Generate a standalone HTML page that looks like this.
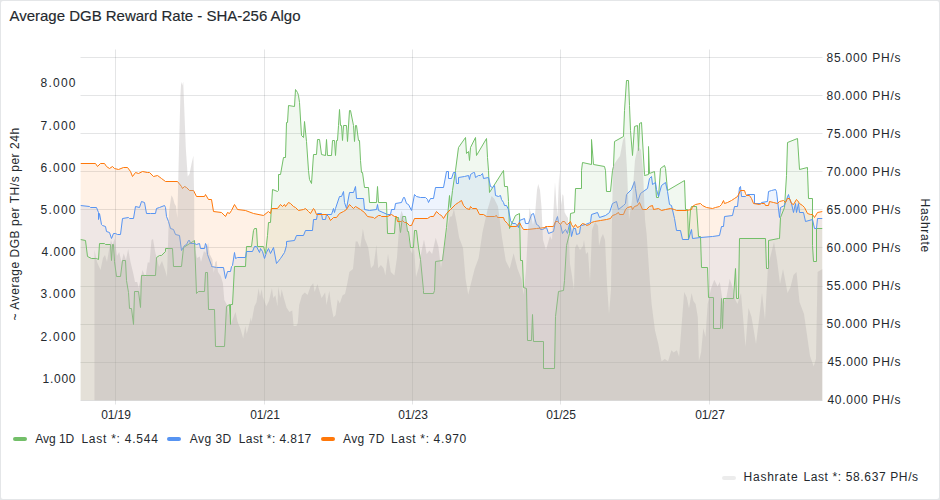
<!DOCTYPE html>
<html><head><meta charset="utf-8"><style>
html,body{margin:0;padding:0;width:940px;height:500px;overflow:hidden;background:#e4e6e8}
body{font-family:"Liberation Sans",sans-serif;color:#24292e;position:relative}
.card{position:absolute;left:1px;top:1px;width:938px;height:498px;background:#fff;border-radius:2px}
.t{position:absolute;font-size:12px;line-height:20px;white-space:nowrap}
.bar{position:absolute;height:4px;border-radius:2px}
</style></head><body>
<div class="card"></div>
<svg width="940" height="500" viewBox="0 0 940 500" style="position:absolute;left:0;top:0">
<defs><clipPath id="pc"><rect x="80.5" y="49.5" width="742.0" height="351.0"/></clipPath></defs>
<path d="M80.5,57.5 H822.5 M80.5,95.5 H822.5 M80.5,133.5 H822.5 M80.5,171.5 H822.5 M80.5,209.5 H822.5 M80.5,247.5 H822.5 M80.5,286.5 H822.5 M80.5,324.5 H822.5 M80.5,362.5 H822.5 M80.5,400.5 H822.5 M115.5,49.5 V404.5 M264.5,49.5 V404.5 M412.5,49.5 V404.5 M560.5,49.5 V404.5 M709.5,49.5 V404.5" stroke="rgba(36,41,46,0.12)" stroke-width="1" fill="none"/>
<g clip-path="url(#pc)">
<path d="M80.30,400.50 L80.30,239.20 L85.50,240.00 L87.70,256.50 L91.50,258.00 L96.00,258.70 L98.20,259.50 L99.70,243.00 L104.20,243.30 L105.00,244.50 L110.20,244.50 L111.30,260.20 L112.50,244.50 L113.70,244.50 L114.70,261.00 L116.20,276.00 L120.70,276.00 L122.20,260.20 L125.20,260.20 L126.50,280.00 L128.00,292.50 L129.25,308.00 L131.75,308.75 L133.00,324.50 L134.20,291.00 L138.00,291.00 L140.50,307.50 L141.70,275.20 L155.20,275.20 L156.00,257.20 L159.70,255.70 L161.20,255.00 L165.00,251.20 L165.00,248.80 L172.20,248.80 L173.00,266.25 L181.75,266.25 L183.40,247.20 L194.60,240.80 L196.30,293.00 L198.40,291.00 L204.00,291.00 L205.40,272.00 L207.50,272.00 L208.50,309.50 L214.25,309.50 L215.50,346.25 L224.25,346.25 L226.75,306.25 L229.90,304.30 L230.30,324.00 L230.80,304.30 L232.70,304.30 L234.10,266.40 L245.30,266.40 L246.00,246.80 L251.60,246.80 L253.00,230.00 L254.25,228.75 L256.75,228.75 L257.20,246.80 L263.00,246.80 L265.60,253.80 L267.00,235.60 L268.50,222.90 L270.60,222.90 L272.60,189.10 L277.10,191.00 L278.00,190.00 L278.80,174.60 L280.60,174.60 L283.20,157.00 L285.00,157.00 L286.50,122.90 L287.50,122.00 L288.70,105.30 L294.20,106.40 L295.30,89.90 L297.50,92.10 L298.60,95.40 L299.70,102.00 L301.90,135.00 L303.00,137.20 L304.80,121.80 L306.30,141.60 L308.50,170.20 L309.60,179.00 L311.80,183.40 L313.60,154.80 L316.20,154.80 L317.30,139.40 L319.50,139.40 L321.00,154.80 L325.00,155.20 L326.20,139.00 L327.40,155.20 L331.60,155.20 L332.80,140.60 L334.40,140.60 L335.60,155.80 L336.80,140.80 L337.60,140.00 L338.40,125.20 L339.40,109.00 L340.00,125.20 L341.20,125.20 L342.40,140.20 L343.60,125.20 L346.00,125.20 L347.20,141.40 L349.00,110.80 L350.80,110.20 L353.20,125.20 L354.40,141.40 L355.60,125.20 L356.80,125.20 L358.00,140.20 L359.20,140.20 L360.40,160.00 L361.30,172.00 L362.70,172.70 L364.10,187.40 L368.30,187.40 L369.70,202.10 L376.00,202.10 L377.40,186.00 L378.10,202.10 L386.50,202.10 L387.20,233.30 L394.40,233.30 L395.30,217.00 L398.80,217.00 L400.60,232.40 L402.40,216.20 L405.10,216.20 L407.00,231.50 L408.80,231.50 L410.50,247.10 L413.20,247.10 L414.10,230.60 L416.80,230.60 L418.60,247.10 L420.40,259.40 L423.00,290.00 L423.50,293.00 L433.00,293.00 L434.75,290.00 L435.70,261.20 L442.90,260.30 L446.50,227.00 L449.25,195.00 L449.25,195.00 L450.50,207.50 L452.25,190.00 L455.50,170.00 L458.00,147.50 L465.50,137.50 L466.25,153.75 L468.00,151.00 L469.25,160.00 L470.00,147.50 L475.50,137.50 L476.75,155.00 L486.25,138.75 L487.00,157.50 L488.50,170.00 L489.25,192.50 L503.00,170.00 L504.25,186.25 L507.00,186.25 L508.00,201.25 L509.25,228.75 L515.50,215.00 L519.25,213.75 L520.50,260.00 L522.50,260.00 L523.00,287.00 L526.00,288.00 L527.50,340.00 L531.50,340.00 L532.50,314.50 L533.75,341.25 L543.00,341.25 L543.50,368.00 L554.25,368.00 L555.50,316.25 L558.00,291.25 L563.00,290.50 L564.25,280.00 L566.75,245.00 L569.20,233.00 L570.00,213.50 L574.50,212.70 L575.20,188.00 L581.20,188.00 L581.70,170.00 L582.00,162.40 L591.00,164.00 L591.60,139.00 L593.00,164.00 L604.00,166.00 L605.20,170.00 L606.70,191.70 L610.50,191.70 L612.00,170.00 L613.00,166.00 L614.60,141.00 L623.00,136.00 L624.50,110.00 L626.00,80.00 L628.50,80.00 L629.75,105.00 L630.60,130.00 L632.00,155.00 L634.00,126.00 L637.00,125.00 L638.00,150.00 L639.00,123.00 L641.40,122.00 L644.00,174.00 L644.50,175.20 L648.00,174.00 L648.80,146.00 L649.60,173.50 L654.20,171.50 L656.50,197.00 L658.00,197.00 L660.20,168.00 L664.50,165.00 L665.50,168.00 L667.00,190.20 L684.20,180.50 L685.70,209.70 L687.20,209.70 L688.70,239.00 L690.20,209.00 L691.70,206.70 L696.20,206.00 L698.50,236.00 L700.00,236.00 L701.00,267.50 L707.50,267.50 L708.00,297.50 L713.00,297.50 L713.75,328.75 L720.00,328.75 L721.00,298.75 L722.00,328.75 L723.00,298.75 L733.75,298.75 L735.50,268.75 L736.50,298.75 L738.00,298.75 L739.50,238.75 L765.00,238.75 L766.25,268.75 L768.00,268.75 L768.75,240.00 L778.75,238.75 L779.20,238.70 L780.00,217.00 L784.80,207.20 L786.20,175.00 L787.50,142.50 L797.50,138.00 L799.50,169.00 L807.00,167.00 L807.90,170.00 L808.60,198.10 L812.10,198.80 L812.80,245.00 L813.75,261.25 L816.00,261.25 L816.30,228.90 L822.50,228.90 L822.50,400.50 Z" fill="rgba(115,191,105,0.10)"/>
<path d="M80.30,400.50 L80.30,205.50 L89.20,206.20 L90.00,207.00 L96.70,207.70 L98.20,212.20 L98.70,219.00 L99.70,213.70 L101.20,224.20 L102.70,225.70 L105.00,226.50 L106.50,231.70 L109.50,232.50 L111.30,238.50 L113.20,233.20 L115.50,233.20 L117.00,234.70 L120.70,234.30 L122.20,218.20 L128.20,217.50 L129.00,218.20 L133.50,218.20 L135.00,206.20 L139.50,207.00 L141.70,201.70 L144.00,202.50 L146.20,213.00 L150.70,213.70 L155.20,213.70 L156.00,208.50 L159.70,207.00 L164.20,205.50 L165.00,207.20 L166.60,216.80 L168.20,221.60 L170.60,228.00 L173.00,229.60 L175.40,234.40 L179.40,235.20 L181.80,250.40 L184.20,245.60 L186.60,244.80 L188.20,240.00 L189.80,240.00 L190.60,243.20 L194.60,243.20 L196.20,244.00 L199.10,243.30 L200.50,248.90 L204.00,248.90 L205.40,243.30 L206.50,245.50 L207.50,254.50 L211.00,265.00 L211.70,266.40 L216.60,267.10 L223.60,267.80 L225.70,278.30 L227.80,271.30 L230.60,271.30 L231.30,266.40 L232.70,265.70 L234.50,252.40 L235.50,258.00 L237.60,257.30 L245.30,257.30 L246.70,251.70 L252.30,251.70 L254.40,246.10 L256.50,246.80 L259.30,252.40 L260.70,248.20 L262.80,251.70 L264.90,258.00 L266.90,252.40 L268.40,248.20 L270.50,253.75 L273.00,247.50 L276.75,263.75 L280.50,258.75 L284.25,252.50 L286.20,245.00 L286.90,241.10 L294.00,240.50 L296.00,235.90 L303.10,235.90 L305.10,230.10 L312.20,230.10 L313.50,219.00 L316.10,219.00 L317.40,213.50 L321.30,213.50 L322.60,219.00 L325.20,219.00 L326.50,214.50 L331.70,214.50 L333.00,208.00 L334.30,212.50 L335.60,208.00 L339.50,196.90 L341.50,196.90 L343.40,191.00 L344.70,202.80 L346.00,208.60 L349.30,192.40 L353.80,192.40 L355.00,186.00 L356.40,198.60 L363.40,198.60 L364.10,209.10 L369.00,210.50 L376.00,209.80 L377.40,204.20 L378.80,210.50 L387.20,214.00 L390.00,214.00 L391.40,209.80 L394.20,209.80 L395.60,203.50 L401.20,202.80 L403.30,197.50 L404.70,197.90 L406.10,203.50 L408.90,204.20 L411.00,210.50 L414.50,194.40 L416.60,196.50 L420.80,197.50 L425.00,197.90 L427.80,199.30 L428.50,202.80 L430.00,198.60 L433.40,198.60 L435.50,187.40 L443.20,187.40 L446.70,171.30 L448.10,171.30 L448.80,178.30 L451.60,178.30 L453.00,172.00 L455.00,172.70 L456.50,183.20 L458.00,183.20 L458.70,177.20 L464.70,176.50 L468.50,175.00 L469.20,179.50 L470.00,174.20 L473.00,172.70 L474.50,172.00 L475.20,177.20 L478.20,175.70 L480.00,175.70 L482.00,173.50 L483.50,178.00 L488.00,177.20 L490.20,186.20 L492.50,187.70 L494.00,185.50 L495.50,195.20 L498.50,196.00 L500.00,195.20 L501.50,199.00 L503.70,202.00 L504.50,205.00 L506.00,205.00 L508.20,209.50 L510.50,220.00 L512.70,223.00 L515.00,223.70 L518.00,227.50 L519.50,220.00 L524.00,218.50 L525.50,223.00 L528.50,223.00 L531.50,214.00 L533.00,213.20 L536.00,224.50 L538.00,225.20 L540.50,229.70 L542.00,229.20 L544.50,228.50 L546.70,227.70 L548.20,233.00 L553.50,231.50 L555.70,221.00 L557.20,216.50 L558.70,222.50 L560.70,224.70 L562.50,233.70 L564.00,230.00 L565.50,229.20 L567.00,233.00 L569.20,223.20 L570.00,227.70 L571.50,236.00 L573.70,228.50 L575.20,228.50 L576.70,234.50 L579.70,233.70 L580.50,226.20 L581.20,225.50 L585.00,224.70 L590.20,222.50 L591.00,214.20 L597.70,212.00 L599.20,217.20 L605.20,215.00 L609.70,212.70 L612.00,203.70 L616.50,201.50 L618.00,209.00 L623.20,205.20 L625.00,203.00 L626.50,194.70 L631.00,189.50 L634.00,181.20 L635.50,188.00 L637.70,202.20 L640.00,193.20 L647.50,188.00 L649.70,178.20 L651.20,176.70 L652.70,184.20 L655.00,182.00 L656.50,189.50 L658.70,196.20 L661.00,185.70 L665.50,182.00 L667.00,191.70 L669.20,204.50 L671.50,205.20 L674.50,218.00 L676.70,230.70 L680.50,230.00 L682.00,239.00 L688.00,239.00 L691.00,229.20 L692.50,238.20 L700.00,237.50 L712.00,236.60 L719.70,235.20 L721.10,226.10 L723.20,226.10 L724.60,216.30 L732.30,215.60 L734.40,206.50 L737.20,206.50 L739.30,187.60 L740.70,186.20 L741.40,196.00 L745.60,196.00 L747.70,194.60 L754.00,194.60 L754.70,203.00 L760.30,203.00 L761.70,202.30 L767.30,201.60 L768.70,191.80 L771.50,190.40 L775.70,189.00 L776.40,191.80 L779.20,217.00 L780.60,207.90 L784.80,205.80 L786.20,199.50 L788.30,194.60 L789.70,198.10 L791.80,203.00 L793.20,212.80 L795.30,203.70 L796.70,212.80 L798.10,203.00 L799.50,212.10 L803.00,212.10 L805.10,221.20 L812.80,219.80 L814.90,228.90 L816.30,228.90 L817.00,218.40 L822.50,218.40 L822.50,400.50 Z" fill="rgba(87,148,242,0.10)"/>
<path d="M80.30,400.50 L80.30,163.70 L95.40,163.70 L97.00,166.30 L100.00,163.70 L104.30,163.70 L106.20,166.80 L109.80,168.00 L112.20,166.30 L114.60,168.70 L118.20,169.70 L123.00,167.30 L127.00,167.30 L130.20,171.00 L132.60,176.40 L135.00,172.80 L138.00,173.50 L142.20,171.00 L147.00,172.00 L149.00,172.50 L153.00,176.40 L157.00,175.50 L161.40,178.80 L165.00,181.60 L177.80,181.60 L181.00,186.40 L182.60,188.00 L184.20,186.40 L186.60,187.20 L189.00,190.40 L193.80,190.40 L196.20,196.80 L204.20,196.80 L205.80,194.40 L208.20,199.20 L211.40,199.20 L213.80,211.20 L221.00,212.00 L225.00,216.80 L227.40,212.00 L229.00,213.60 L231.40,210.40 L234.60,204.80 L237.00,209.60 L245.00,210.40 L253.00,213.75 L263.00,215.00 L268.00,211.20 L270.00,213.20 L271.90,208.00 L277.10,208.00 L280.40,204.70 L282.30,206.00 L284.30,204.00 L285.60,206.00 L288.80,202.80 L290.70,203.40 L293.40,206.00 L295.30,207.30 L298.60,210.60 L303.10,209.90 L305.10,208.60 L308.30,211.20 L310.90,213.20 L313.50,208.60 L314.80,209.30 L316.10,214.10 L326.50,214.10 L328.50,216.40 L330.40,220.30 L333.00,217.70 L336.90,217.70 L339.50,213.80 L343.40,211.90 L346.00,209.30 L349.30,204.70 L351.90,206.70 L353.80,208.60 L355.00,206.30 L360.60,209.80 L364.80,212.60 L367.60,216.80 L373.20,217.50 L374.60,218.20 L378.10,215.40 L380.20,215.40 L381.60,216.10 L387.20,216.10 L391.40,214.00 L394.20,216.10 L396.30,216.10 L397.00,221.00 L401.20,221.70 L402.60,220.30 L404.00,222.40 L406.80,222.40 L409.60,225.20 L411.00,225.20 L414.50,218.20 L427.80,218.20 L430.60,216.10 L433.40,216.10 L436.20,211.20 L439.00,214.70 L441.10,215.40 L443.20,218.90 L446.00,213.30 L450.20,209.80 L455.00,204.20 L458.00,202.70 L461.00,200.50 L463.20,205.70 L466.20,208.70 L469.20,209.50 L470.00,206.50 L472.20,208.70 L476.70,208.70 L479.00,214.70 L483.50,214.70 L486.50,216.20 L494.00,216.20 L496.20,215.50 L497.70,217.70 L503.00,217.70 L504.50,220.70 L507.50,223.70 L509.70,226.00 L516.50,226.00 L519.50,222.20 L521.70,226.00 L523.20,229.00 L527.00,229.70 L536.00,228.20 L545.00,227.50 L545.50,226.25 L547.50,226.20 L553.50,226.20 L555.00,221.70 L557.20,221.00 L558.70,222.50 L560.20,224.00 L562.50,221.70 L564.70,221.70 L566.20,224.70 L567.70,224.00 L570.00,221.00 L571.50,224.70 L573.00,227.70 L575.20,224.70 L577.50,227.00 L579.70,226.20 L582.00,223.20 L585.00,224.00 L586.50,225.50 L589.50,224.70 L591.70,222.50 L594.70,221.70 L600.00,220.70 L606.00,219.50 L610.50,218.00 L612.00,215.00 L615.00,214.20 L618.00,212.00 L619.50,214.70 L623.20,214.20 L625.00,209.70 L627.20,207.50 L631.00,206.00 L632.50,209.00 L634.70,206.00 L637.00,205.20 L639.20,202.20 L642.20,209.00 L646.00,209.30 L649.00,206.00 L652.70,205.20 L653.50,209.70 L658.00,208.70 L661.00,210.50 L665.50,209.70 L670.00,208.70 L674.50,209.70 L676.00,210.50 L686.50,210.20 L691.00,209.00 L692.50,206.00 L695.50,204.80 L700.00,203.70 L702.20,205.20 L706.00,207.50 L712.00,208.60 L715.50,207.90 L719.70,206.50 L721.80,204.40 L723.90,200.90 L724.60,203.00 L727.40,202.30 L731.60,200.90 L734.40,198.10 L737.20,196.70 L740.00,190.40 L744.20,190.40 L745.60,193.20 L746.30,195.30 L749.10,195.30 L751.20,198.80 L753.30,203.70 L759.60,204.40 L761.00,203.00 L764.50,203.00 L765.90,205.10 L768.00,205.10 L769.40,201.60 L773.60,202.30 L777.80,203.00 L779.20,201.60 L783.40,200.90 L785.50,202.30 L787.60,198.80 L789.70,198.80 L791.80,203.00 L793.20,204.40 L796.00,199.50 L797.40,200.90 L799.50,203.70 L802.30,205.10 L804.40,207.90 L807.20,213.50 L810.00,214.90 L812.80,214.20 L814.90,217.00 L817.70,212.80 L822.50,211.40 L822.50,400.50 Z" fill="rgba(255,120,10,0.10)"/>
<path d="M80.50,239.50 L85.50,240.50 L87.50,256.50 L91.50,258.50 L96.50,258.50 L98.50,259.50 L99.50,243.50 L104.50,243.50 L105.50,244.50 L110.50,244.50 L111.50,260.50 L112.50,244.50 L113.50,244.50 L114.50,261.50 L116.50,276.50 L120.50,276.50 L122.50,260.50 L125.50,260.50 L126.50,280.50 L128.50,292.50 L129.50,308.50 L131.50,308.50 L133.50,324.50 L134.50,291.50 L138.50,291.50 L140.50,307.50 L141.50,275.50 L155.50,275.50 L156.50,257.50 L159.50,255.50 L161.50,255.50 L165.50,251.50 L165.50,248.50 L172.50,248.50 L173.50,266.50 L181.50,266.50 L183.50,247.50 L194.50,240.50 L196.50,293.50 L198.50,291.50 L204.50,291.50 L205.50,272.50 L207.50,272.50 L208.50,309.50 L214.50,309.50 L215.50,346.50 L224.50,346.50 L226.50,306.50 L229.50,304.50 L230.50,324.50 L230.50,304.50 L232.50,304.50 L234.50,266.50 L245.50,266.50 L246.50,246.50 L251.50,246.50 L253.50,230.50 L254.50,228.50 L256.50,228.50 L257.50,246.50 L263.50,246.50 L265.50,253.50 L267.50,235.50 L268.50,222.50 L270.50,222.50 L272.50,189.50 L277.50,191.50 L278.50,190.50 L278.50,174.50 L280.50,174.50 L283.50,157.50 L285.50,157.50 L286.50,122.50 L287.50,122.50 L288.50,105.50 L294.50,106.50 L295.50,89.50 L297.50,92.50 L298.50,95.50 L299.50,102.50 L301.50,135.50 L303.50,137.50 L304.50,121.50 L306.50,141.50 L308.50,170.50 L309.50,179.50 L311.50,183.50 L313.50,154.50 L316.50,154.50 L317.50,139.50 L319.50,139.50 L321.50,154.50 L325.50,155.50 L326.50,139.50 L327.50,155.50 L331.50,155.50 L332.50,140.50 L334.50,140.50 L335.50,155.50 L336.50,140.50 L337.50,140.50 L338.50,125.50 L339.50,109.50 L340.50,125.50 L341.50,125.50 L342.50,140.50 L343.50,125.50 L346.50,125.50 L347.50,141.50 L349.50,110.50 L350.50,110.50 L353.50,125.50 L354.50,141.50 L355.50,125.50 L356.50,125.50 L358.50,140.50 L359.50,140.50 L360.50,160.50 L361.50,172.50 L362.50,172.50 L364.50,187.50 L368.50,187.50 L369.50,202.50 L376.50,202.50 L377.50,186.50 L378.50,202.50 L386.50,202.50 L387.50,233.50 L394.50,233.50 L395.50,217.50 L398.50,217.50 L400.50,232.50 L402.50,216.50 L405.50,216.50 L407.50,231.50 L408.50,231.50 L410.50,247.50 L413.50,247.50 L414.50,230.50 L416.50,230.50 L418.50,247.50 L420.50,259.50 L423.50,290.50 L423.50,293.50 L433.50,293.50 L434.50,290.50 L435.50,261.50 L442.50,260.50 L446.50,227.50 L449.50,195.50 L449.50,195.50 L450.50,207.50 L452.50,190.50 L455.50,170.50 L458.50,147.50 L465.50,137.50 L466.50,153.50 L468.50,151.50 L469.50,160.50 L470.50,147.50 L475.50,137.50 L476.50,155.50 L486.50,138.50 L487.50,157.50 L488.50,170.50 L489.50,192.50 L503.50,170.50 L504.50,186.50 L507.50,186.50 L508.50,201.50 L509.50,228.50 L515.50,215.50 L519.50,213.50 L520.50,260.50 L522.50,260.50 L523.50,287.50 L526.50,288.50 L527.50,340.50 L531.50,340.50 L532.50,314.50 L533.50,341.50 L543.50,341.50 L543.50,368.50 L554.50,368.50 L555.50,316.50 L558.50,291.50 L563.50,290.50 L564.50,280.50 L566.50,245.50 L569.50,233.50 L570.50,213.50 L574.50,212.50 L575.50,188.50 L581.50,188.50 L581.50,170.50 L582.50,162.50 L591.50,164.50 L591.50,139.50 L593.50,164.50 L604.50,166.50 L605.50,170.50 L606.50,191.50 L610.50,191.50 L612.50,170.50 L613.50,166.50 L614.50,141.50 L623.50,136.50 L624.50,110.50 L626.50,80.50 L628.50,80.50 L629.50,105.50 L630.50,130.50 L632.50,155.50 L634.50,126.50 L637.50,125.50 L638.50,150.50 L639.50,123.50 L641.50,122.50 L644.50,174.50 L644.50,175.50 L648.50,174.50 L648.50,146.50 L649.50,173.50 L654.50,171.50 L656.50,197.50 L658.50,197.50 L660.50,168.50 L664.50,165.50 L665.50,168.50 L667.50,190.50 L684.50,180.50 L685.50,209.50 L687.50,209.50 L688.50,239.50 L690.50,209.50 L691.50,206.50 L696.50,206.50 L698.50,236.50 L700.50,236.50 L701.50,267.50 L707.50,267.50 L708.50,297.50 L713.50,297.50 L713.50,328.50 L720.50,328.50 L721.50,298.50 L722.50,328.50 L723.50,298.50 L733.50,298.50 L735.50,268.50 L736.50,298.50 L738.50,298.50 L739.50,238.50 L765.50,238.50 L766.50,268.50 L768.50,268.50 L768.50,240.50 L778.50,238.50 L779.50,238.50 L780.50,217.50 L784.50,207.50 L786.50,175.50 L787.50,142.50 L797.50,138.50 L799.50,169.50 L807.50,167.50 L807.50,170.50 L808.50,198.50 L812.50,198.50 L812.50,245.50 L813.50,261.50 L816.50,261.50 L816.50,228.50 L822.50,228.50" fill="none" stroke="#73BF69" stroke-width="1.0" stroke-linejoin="miter"/>
<path d="M80.50,205.50 L89.50,206.50 L90.50,207.50 L96.50,207.50 L98.50,212.50 L98.50,219.50 L99.50,213.50 L101.50,224.50 L102.50,225.50 L105.50,226.50 L106.50,231.50 L109.50,232.50 L111.50,238.50 L113.50,233.50 L115.50,233.50 L117.50,234.50 L120.50,234.50 L122.50,218.50 L128.50,217.50 L129.50,218.50 L133.50,218.50 L135.50,206.50 L139.50,207.50 L141.50,201.50 L144.50,202.50 L146.50,213.50 L150.50,213.50 L155.50,213.50 L156.50,208.50 L159.50,207.50 L164.50,205.50 L165.50,207.50 L166.50,216.50 L168.50,221.50 L170.50,228.50 L173.50,229.50 L175.50,234.50 L179.50,235.50 L181.50,250.50 L184.50,245.50 L186.50,244.50 L188.50,240.50 L189.50,240.50 L190.50,243.50 L194.50,243.50 L196.50,244.50 L199.50,243.50 L200.50,248.50 L204.50,248.50 L205.50,243.50 L206.50,245.50 L207.50,254.50 L211.50,265.50 L211.50,266.50 L216.50,267.50 L223.50,267.50 L225.50,278.50 L227.50,271.50 L230.50,271.50 L231.50,266.50 L232.50,265.50 L234.50,252.50 L235.50,258.50 L237.50,257.50 L245.50,257.50 L246.50,251.50 L252.50,251.50 L254.50,246.50 L256.50,246.50 L259.50,252.50 L260.50,248.50 L262.50,251.50 L264.50,258.50 L266.50,252.50 L268.50,248.50 L270.50,253.50 L273.50,247.50 L276.50,263.50 L280.50,258.50 L284.50,252.50 L286.50,245.50 L286.50,241.50 L294.50,240.50 L296.50,235.50 L303.50,235.50 L305.50,230.50 L312.50,230.50 L313.50,219.50 L316.50,219.50 L317.50,213.50 L321.50,213.50 L322.50,219.50 L325.50,219.50 L326.50,214.50 L331.50,214.50 L333.50,208.50 L334.50,212.50 L335.50,208.50 L339.50,196.50 L341.50,196.50 L343.50,191.50 L344.50,202.50 L346.50,208.50 L349.50,192.50 L353.50,192.50 L355.50,186.50 L356.50,198.50 L363.50,198.50 L364.50,209.50 L369.50,210.50 L376.50,209.50 L377.50,204.50 L378.50,210.50 L387.50,214.50 L390.50,214.50 L391.50,209.50 L394.50,209.50 L395.50,203.50 L401.50,202.50 L403.50,197.50 L404.50,197.50 L406.50,203.50 L408.50,204.50 L411.50,210.50 L414.50,194.50 L416.50,196.50 L420.50,197.50 L425.50,197.50 L427.50,199.50 L428.50,202.50 L430.50,198.50 L433.50,198.50 L435.50,187.50 L443.50,187.50 L446.50,171.50 L448.50,171.50 L448.50,178.50 L451.50,178.50 L453.50,172.50 L455.50,172.50 L456.50,183.50 L458.50,183.50 L458.50,177.50 L464.50,176.50 L468.50,175.50 L469.50,179.50 L470.50,174.50 L473.50,172.50 L474.50,172.50 L475.50,177.50 L478.50,175.50 L480.50,175.50 L482.50,173.50 L483.50,178.50 L488.50,177.50 L490.50,186.50 L492.50,187.50 L494.50,185.50 L495.50,195.50 L498.50,196.50 L500.50,195.50 L501.50,199.50 L503.50,202.50 L504.50,205.50 L506.50,205.50 L508.50,209.50 L510.50,220.50 L512.50,223.50 L515.50,223.50 L518.50,227.50 L519.50,220.50 L524.50,218.50 L525.50,223.50 L528.50,223.50 L531.50,214.50 L533.50,213.50 L536.50,224.50 L538.50,225.50 L540.50,229.50 L542.50,229.50 L544.50,228.50 L546.50,227.50 L548.50,233.50 L553.50,231.50 L555.50,221.50 L557.50,216.50 L558.50,222.50 L560.50,224.50 L562.50,233.50 L564.50,230.50 L565.50,229.50 L567.50,233.50 L569.50,223.50 L570.50,227.50 L571.50,236.50 L573.50,228.50 L575.50,228.50 L576.50,234.50 L579.50,233.50 L580.50,226.50 L581.50,225.50 L585.50,224.50 L590.50,222.50 L591.50,214.50 L597.50,212.50 L599.50,217.50 L605.50,215.50 L609.50,212.50 L612.50,203.50 L616.50,201.50 L618.50,209.50 L623.50,205.50 L625.50,203.50 L626.50,194.50 L631.50,189.50 L634.50,181.50 L635.50,188.50 L637.50,202.50 L640.50,193.50 L647.50,188.50 L649.50,178.50 L651.50,176.50 L652.50,184.50 L655.50,182.50 L656.50,189.50 L658.50,196.50 L661.50,185.50 L665.50,182.50 L667.50,191.50 L669.50,204.50 L671.50,205.50 L674.50,218.50 L676.50,230.50 L680.50,230.50 L682.50,239.50 L688.50,239.50 L691.50,229.50 L692.50,238.50 L700.50,237.50 L712.50,236.50 L719.50,235.50 L721.50,226.50 L723.50,226.50 L724.50,216.50 L732.50,215.50 L734.50,206.50 L737.50,206.50 L739.50,187.50 L740.50,186.50 L741.50,196.50 L745.50,196.50 L747.50,194.50 L754.50,194.50 L754.50,203.50 L760.50,203.50 L761.50,202.50 L767.50,201.50 L768.50,191.50 L771.50,190.50 L775.50,189.50 L776.50,191.50 L779.50,217.50 L780.50,207.50 L784.50,205.50 L786.50,199.50 L788.50,194.50 L789.50,198.50 L791.50,203.50 L793.50,212.50 L795.50,203.50 L796.50,212.50 L798.50,203.50 L799.50,212.50 L803.50,212.50 L805.50,221.50 L812.50,219.50 L814.50,228.50 L816.50,228.50 L817.50,218.50 L822.50,218.50" fill="none" stroke="#5794F2" stroke-width="1.0" stroke-linejoin="miter"/>
<path d="M80.50,163.50 L95.50,163.50 L97.50,166.50 L100.50,163.50 L104.50,163.50 L106.50,166.50 L109.50,168.50 L112.50,166.50 L114.50,168.50 L118.50,169.50 L123.50,167.50 L127.50,167.50 L130.50,171.50 L132.50,176.50 L135.50,172.50 L138.50,173.50 L142.50,171.50 L147.50,172.50 L149.50,172.50 L153.50,176.50 L157.50,175.50 L161.50,178.50 L165.50,181.50 L177.50,181.50 L181.50,186.50 L182.50,188.50 L184.50,186.50 L186.50,187.50 L189.50,190.50 L193.50,190.50 L196.50,196.50 L204.50,196.50 L205.50,194.50 L208.50,199.50 L211.50,199.50 L213.50,211.50 L221.50,212.50 L225.50,216.50 L227.50,212.50 L229.50,213.50 L231.50,210.50 L234.50,204.50 L237.50,209.50 L245.50,210.50 L253.50,213.50 L263.50,215.50 L268.50,211.50 L270.50,213.50 L271.50,208.50 L277.50,208.50 L280.50,204.50 L282.50,206.50 L284.50,204.50 L285.50,206.50 L288.50,202.50 L290.50,203.50 L293.50,206.50 L295.50,207.50 L298.50,210.50 L303.50,209.50 L305.50,208.50 L308.50,211.50 L310.50,213.50 L313.50,208.50 L314.50,209.50 L316.50,214.50 L326.50,214.50 L328.50,216.50 L330.50,220.50 L333.50,217.50 L336.50,217.50 L339.50,213.50 L343.50,211.50 L346.50,209.50 L349.50,204.50 L351.50,206.50 L353.50,208.50 L355.50,206.50 L360.50,209.50 L364.50,212.50 L367.50,216.50 L373.50,217.50 L374.50,218.50 L378.50,215.50 L380.50,215.50 L381.50,216.50 L387.50,216.50 L391.50,214.50 L394.50,216.50 L396.50,216.50 L397.50,221.50 L401.50,221.50 L402.50,220.50 L404.50,222.50 L406.50,222.50 L409.50,225.50 L411.50,225.50 L414.50,218.50 L427.50,218.50 L430.50,216.50 L433.50,216.50 L436.50,211.50 L439.50,214.50 L441.50,215.50 L443.50,218.50 L446.50,213.50 L450.50,209.50 L455.50,204.50 L458.50,202.50 L461.50,200.50 L463.50,205.50 L466.50,208.50 L469.50,209.50 L470.50,206.50 L472.50,208.50 L476.50,208.50 L479.50,214.50 L483.50,214.50 L486.50,216.50 L494.50,216.50 L496.50,215.50 L497.50,217.50 L503.50,217.50 L504.50,220.50 L507.50,223.50 L509.50,226.50 L516.50,226.50 L519.50,222.50 L521.50,226.50 L523.50,229.50 L527.50,229.50 L536.50,228.50 L545.50,227.50 L545.50,226.50 L547.50,226.50 L553.50,226.50 L555.50,221.50 L557.50,221.50 L558.50,222.50 L560.50,224.50 L562.50,221.50 L564.50,221.50 L566.50,224.50 L567.50,224.50 L570.50,221.50 L571.50,224.50 L573.50,227.50 L575.50,224.50 L577.50,227.50 L579.50,226.50 L582.50,223.50 L585.50,224.50 L586.50,225.50 L589.50,224.50 L591.50,222.50 L594.50,221.50 L600.50,220.50 L606.50,219.50 L610.50,218.50 L612.50,215.50 L615.50,214.50 L618.50,212.50 L619.50,214.50 L623.50,214.50 L625.50,209.50 L627.50,207.50 L631.50,206.50 L632.50,209.50 L634.50,206.50 L637.50,205.50 L639.50,202.50 L642.50,209.50 L646.50,209.50 L649.50,206.50 L652.50,205.50 L653.50,209.50 L658.50,208.50 L661.50,210.50 L665.50,209.50 L670.50,208.50 L674.50,209.50 L676.50,210.50 L686.50,210.50 L691.50,209.50 L692.50,206.50 L695.50,204.50 L700.50,203.50 L702.50,205.50 L706.50,207.50 L712.50,208.50 L715.50,207.50 L719.50,206.50 L721.50,204.50 L723.50,200.50 L724.50,203.50 L727.50,202.50 L731.50,200.50 L734.50,198.50 L737.50,196.50 L740.50,190.50 L744.50,190.50 L745.50,193.50 L746.50,195.50 L749.50,195.50 L751.50,198.50 L753.50,203.50 L759.50,204.50 L761.50,203.50 L764.50,203.50 L765.50,205.50 L768.50,205.50 L769.50,201.50 L773.50,202.50 L777.50,203.50 L779.50,201.50 L783.50,200.50 L785.50,202.50 L787.50,198.50 L789.50,198.50 L791.50,203.50 L793.50,204.50 L796.50,199.50 L797.50,200.50 L799.50,203.50 L802.50,205.50 L804.50,207.50 L807.50,213.50 L810.50,214.50 L812.50,214.50 L814.50,217.50 L817.50,212.50 L822.50,211.50" fill="none" stroke="#FF780A" stroke-width="1.0" stroke-linejoin="miter"/>
<path d="M94.50,400.50 L94.50,400.50 L94.50,250.00 L97.00,262.00 L100.50,270.00 L103.00,258.00 L105.00,255.00 L107.00,262.00 L109.00,250.00 L111.00,240.00 L112.50,245.00 L114.70,238.50 L117.00,256.00 L119.20,252.00 L121.50,262.00 L123.70,253.50 L126.00,260.00 L128.20,249.00 L130.50,262.00 L133.50,274.50 L135.00,282.00 L137.20,282.00 L138.70,288.00 L142.50,270.00 L145.50,277.50 L147.70,262.50 L149.50,262.50 L151.50,240.00 L153.00,239.00 L155.20,252.00 L159.00,267.00 L162.00,261.00 L165.00,270.00 L167.00,277.00 L169.00,212.00 L171.40,195.20 L173.00,198.00 L174.60,204.00 L176.00,206.00 L177.30,218.00 L177.80,200.00 L179.00,148.00 L180.40,96.00 L181.20,81.70 L182.20,85.60 L183.20,81.70 L184.30,109.00 L185.80,148.00 L187.70,176.50 L189.50,174.00 L191.60,163.50 L193.40,155.70 L194.20,200.00 L194.30,245.00 L197.00,258.00 L199.80,256.60 L201.00,262.00 L204.00,251.00 L205.50,253.00 L208.20,242.60 L209.60,254.00 L212.40,259.40 L213.80,273.00 L215.20,262.20 L216.60,260.80 L218.00,272.00 L220.80,276.20 L222.90,283.20 L224.30,300.00 L227.00,305.00 L230.60,324.60 L233.40,317.60 L235.50,312.00 L237.60,321.80 L240.40,328.80 L243.20,338.60 L245.30,326.00 L246.70,334.00 L248.80,326.00 L250.90,317.60 L251.60,322.00 L254.40,306.40 L256.50,302.20 L258.60,288.20 L260.00,296.60 L261.70,288.90 L262.80,297.00 L264.90,302.20 L266.30,306.40 L269.10,300.80 L271.90,288.20 L273.30,298.00 L275.40,295.20 L277.50,306.40 L278.20,286.80 L280.30,298.00 L281.70,289.60 L283.80,298.00 L286.60,307.80 L289.40,312.00 L292.20,310.60 L293.60,326.00 L296.40,326.00 L297.80,323.00 L299.20,305.00 L302.00,295.20 L304.80,292.40 L307.60,295.00 L310.40,286.80 L313.20,283.30 L314.60,292.00 L317.40,284.00 L321.60,298.00 L325.10,292.40 L326.50,305.00 L329.30,291.00 L331.40,306.40 L333.50,317.60 L335.60,315.00 L337.70,299.40 L339.80,303.60 L342.60,295.20 L345.00,294.00 L347.00,285.00 L349.40,272.00 L353.00,269.00 L355.70,241.40 L357.50,241.40 L360.20,248.00 L362.90,228.80 L364.70,239.00 L366.50,243.20 L368.30,248.00 L371.00,268.30 L373.70,265.00 L376.40,245.00 L378.20,268.30 L380.90,265.00 L383.60,268.30 L385.40,275.50 L388.00,254.00 L390.80,272.00 L394.40,275.50 L397.00,257.60 L399.70,218.00 L401.50,210.80 L404.20,218.00 L407.00,227.00 L410.50,250.40 L412.30,254.00 L414.00,246.80 L416.00,277.30 L418.60,268.30 L421.30,252.20 L424.00,239.60 L426.70,254.00 L429.40,250.40 L432.10,254.00 L435.70,237.80 L438.40,246.80 L441.00,268.30 L442.90,254.00 L445.60,239.60 L448.30,223.40 L450.00,216.80 L452.00,216.20 L453.90,209.00 L456.50,222.00 L459.10,237.50 L463.00,248.00 L465.60,279.00 L468.20,294.70 L470.80,284.30 L474.70,268.70 L478.60,258.30 L482.50,232.30 L487.70,209.00 L491.60,196.00 L494.20,198.80 L498.00,206.40 L502.00,237.50 L505.80,261.00 L509.70,268.70 L513.60,253.20 L517.50,268.70 L521.40,279.00 L523.50,295.00 L526.00,270.00 L528.00,230.00 L529.50,208.00 L531.00,214.00 L533.00,225.00 L535.00,215.00 L537.00,190.00 L538.20,184.00 L540.00,190.00 L541.50,207.00 L543.00,240.00 L546.00,250.00 L550.00,236.00 L552.00,240.00 L553.50,210.00 L555.00,182.00 L556.50,205.00 L557.50,215.00 L558.50,190.00 L559.30,171.50 L560.20,192.50 L561.50,205.00 L562.50,194.00 L563.50,196.00 L564.50,212.00 L566.00,215.00 L568.00,218.00 L570.00,264.00 L572.00,276.00 L574.00,290.00 L575.00,248.00 L577.00,244.00 L580.00,250.00 L583.00,246.00 L584.00,240.00 L586.00,254.00 L588.00,252.00 L590.00,282.00 L592.00,230.00 L595.00,222.00 L598.00,226.00 L599.00,246.00 L601.00,238.00 L603.00,234.00 L605.00,240.00 L607.00,284.00 L609.00,314.00 L611.00,290.00 L612.00,220.00 L613.00,166.00 L617.00,160.00 L620.00,156.00 L623.00,140.00 L625.00,136.00 L627.00,170.00 L629.00,220.00 L632.00,200.00 L635.00,160.00 L638.00,146.00 L641.00,150.00 L643.00,170.00 L645.00,220.00 L646.60,234.00 L649.40,275.40 L651.60,304.00 L655.00,330.40 L658.20,343.60 L661.50,361.20 L664.80,359.00 L668.10,361.20 L671.40,350.20 L673.60,352.40 L676.90,350.20 L679.10,356.80 L680.20,343.60 L682.40,315.00 L684.20,291.90 L686.80,297.40 L689.00,308.40 L691.60,293.00 L693.40,301.00 L695.60,304.00 L697.80,317.20 L698.90,361.20 L701.10,352.40 L703.30,328.20 L705.50,337.00 L707.70,304.00 L711.00,288.60 L714.30,279.80 L717.60,286.40 L719.80,282.00 L723.10,304.00 L726.40,297.40 L729.70,278.70 L733.00,288.60 L735.20,299.60 L737.40,304.00 L741.00,293.00 L744.00,329.00 L745.50,347.00 L748.50,308.00 L751.50,317.00 L756.00,344.00 L759.00,320.00 L762.00,293.00 L765.00,320.00 L768.00,266.00 L774.00,242.00 L777.00,260.00 L780.00,284.00 L783.00,269.00 L787.50,293.00 L790.50,287.00 L793.50,275.00 L796.50,272.00 L799.50,302.00 L804.00,314.00 L807.00,335.00 L810.00,356.00 L813.70,366.60 L816.00,359.00 L817.60,272.00 L822.50,269.00 L822.50,400.50 L822.50,400.50 Z" fill="rgba(180,176,175,0.36)"/>
</g>
</svg>
<div class="t" style="left:9.50px;top:5.80px;font-size:15px;letter-spacing:-0.014px;-webkit-text-stroke:0.15px currentColor;">Average DGB Reward Rate - SHA-256 Algo</div>
<div class="t" style="left:40.50px;top:73.30px;font-size:12px;letter-spacing:1.250px;">8.000</div>
<div class="t" style="left:40.50px;top:115.52px;font-size:12px;letter-spacing:1.250px;">7.000</div>
<div class="t" style="left:40.50px;top:157.74px;font-size:12px;letter-spacing:1.250px;">6.000</div>
<div class="t" style="left:40.50px;top:199.96px;font-size:12px;letter-spacing:1.250px;">5.000</div>
<div class="t" style="left:41.50px;top:242.18px;font-size:12px;letter-spacing:1.000px;">4.000</div>
<div class="t" style="left:40.50px;top:284.40px;font-size:12px;letter-spacing:1.250px;">3.000</div>
<div class="t" style="left:40.50px;top:326.62px;font-size:12px;letter-spacing:1.250px;">2.000</div>
<div class="t" style="left:42.60px;top:368.84px;font-size:12px;letter-spacing:0.725px;">1.000</div>
<div class="t" style="left:826.50px;top:47.60px;font-size:12px;letter-spacing:0.800px;">85.000 PH/s</div>
<div class="t" style="left:826.50px;top:85.66px;font-size:12px;letter-spacing:0.800px;">80.000 PH/s</div>
<div class="t" style="left:826.50px;top:123.72px;font-size:12px;letter-spacing:0.800px;">75.000 PH/s</div>
<div class="t" style="left:826.50px;top:161.78px;font-size:12px;letter-spacing:0.800px;">70.000 PH/s</div>
<div class="t" style="left:826.50px;top:199.84px;font-size:12px;letter-spacing:0.800px;">65.000 PH/s</div>
<div class="t" style="left:826.50px;top:237.90px;font-size:12px;letter-spacing:0.800px;">60.000 PH/s</div>
<div class="t" style="left:826.50px;top:275.96px;font-size:12px;letter-spacing:0.800px;">55.000 PH/s</div>
<div class="t" style="left:826.50px;top:314.02px;font-size:12px;letter-spacing:0.800px;">50.000 PH/s</div>
<div class="t" style="left:827.50px;top:352.08px;font-size:12px;letter-spacing:0.700px;">45.000 PH/s</div>
<div class="t" style="left:827.50px;top:390.14px;font-size:12px;letter-spacing:0.700px;">40.000 PH/s</div>
<div class="t" style="left:101.20px;top:405.00px;font-size:12px;letter-spacing:-0.100px;">01/19</div>
<div class="t" style="left:250.20px;top:405.00px;font-size:12px;letter-spacing:-0.100px;">01/21</div>
<div class="t" style="left:398.20px;top:405.00px;font-size:12px;letter-spacing:-0.100px;">01/23</div>
<div class="t" style="left:546.20px;top:405.00px;font-size:12px;letter-spacing:-0.100px;">01/25</div>
<div class="t" style="left:695.20px;top:405.00px;font-size:12px;letter-spacing:-0.100px;">01/27</div>
<div class="t" style="left:35.30px;top:428.90px;font-size:12px;letter-spacing:-0.040px;">Avg 1D</div>
<div class="t" style="left:81.40px;top:428.90px;font-size:12px;letter-spacing:0.758px;">Last *: 4.544</div>
<div class="t" style="left:189.80px;top:428.90px;font-size:12px;letter-spacing:0.460px;">Avg 3D</div>
<div class="t" style="left:238.70px;top:428.90px;font-size:12px;letter-spacing:0.425px;">Last *: 4.817</div>
<div class="t" style="left:342.90px;top:428.90px;font-size:12px;letter-spacing:0.460px;">Avg 7D</div>
<div class="t" style="left:391.00px;top:428.90px;font-size:12px;letter-spacing:0.658px;">Last *: 4.970</div>
<div class="t" style="left:743.50px;top:467.30px;font-size:12px;letter-spacing:0.771px;">Hashrate</div>
<div class="t" style="left:803.40px;top:467.30px;font-size:12px;letter-spacing:0.628px;">Last *: 58.637 PH/s</div>
<div class="t" style="left:0;top:0;transform-origin:0 0;transform:translate(5.00px,320.50px) rotate(-90deg);letter-spacing:0.552px">~ Average DGB per TH/s per 24h</div>
<div class="t" style="left:0;top:0;transform-origin:0 0;transform:translate(934.70px,198.50px) rotate(90deg);letter-spacing:0.714px">Hashrate</div>
<div class="bar" style="left:13.2px;width:13.6px;top:436.9px;background:#73BF69"></div>
<div class="bar" style="left:167.1px;width:13.7px;top:436.9px;background:#5794F2"></div>
<div class="bar" style="left:321.1px;width:13.6px;top:436.9px;background:#FF780A"></div>
<div class="bar" style="left:722px;width:14px;top:475.6px;background:#ececec"></div>
</body></html>
